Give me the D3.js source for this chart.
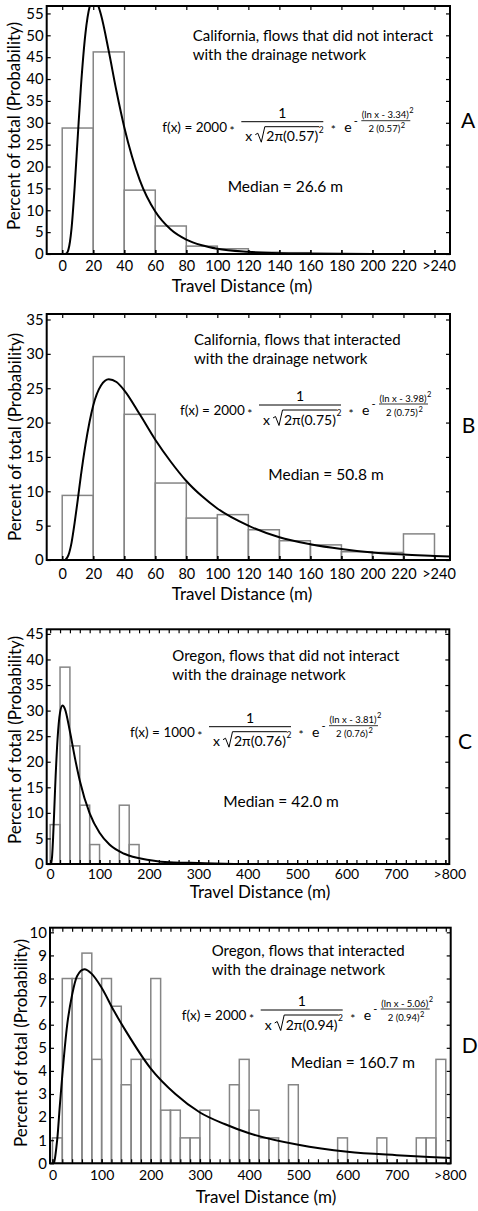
<!DOCTYPE html>
<html>
<head>
<meta charset="utf-8">
<script src="https://cdn.jsdelivr.net/npm/d3@7"></script>
<style>
  body { margin: 0; background: #fff; }
</style>
</head>
<body>
<div id="chart"></div>
<script>
// ---- data ----
// 20 m bins, start of each bin
const binsAB = [0, 20, 40, 60, 80, 100, 120, 140, 160, 180, 200, 220]
const binsCD = [0, 20, 40, 60, 80, 100, 120, 140, 160, 180, 200, 220, 240, 260, 280, 300, 320, 340, 360, 380,
  400, 420, 440, 460, 480, 500, 520, 540, 560, 580, 600, 620, 640, 660, 680, 700, 720, 740, 760, 780]

// percent of total in each bin
const pctA = [28.8, 46.2, 14.6, 6.4, 1.8, 1.2, 0.4, 0.3, 0, 0, 0, 0]
const pctB = [9.4, 29.6, 21.2, 11.2, 6.1, 6.6, 4.4, 2.8, 2.2, 1.2, 1.1, 3.8]
const pctC = [7.7, 38.5, 23.1, 11.5, 3.8, 0, 0, 11.5, 3.8, 0, 0, 0, 0, 0, 0, 0, 0, 0, 0, 0,
  0, 0, 0, 0, 0, 0, 0, 0, 0, 0, 0, 0, 0, 0, 0, 0, 0, 0, 0, 0]
const pctD = [1.1, 8.0, 8.0, 9.1, 4.5, 8.0, 6.8, 3.4, 4.5, 4.5, 8.0, 2.3, 2.3, 1.1, 1.1, 2.3, 0, 0, 3.4, 4.5,
  2.3, 1.1, 1.1, 0, 3.4, 0, 0, 0, 0, 1.1, 0, 0, 0, 1.1, 0, 0, 0, 1.1, 1.1, 4.5]

// fitted lognormal curves
const curveAx = [2, 3, 4, 5, 6, 8, 10, 12, 15, 18, 20, 22, 25, 30, 35, 40, 45, 50, 60, 70, 80, 90, 100, 120, 140, 160, 200, 240]
const curveAy = [0.0, 0.2, 1.0, 2.8, 5.8, 15.2, 26.7, 37.9, 50.5, 57.0, 58.3, 57.8, 54.7, 46.4, 37.2, 29.0, 22.3, 16.9, 9.7, 5.6, 3.3, 2.0, 1.2, 0.5, 0.2, 0.1, 0.0, 0.0]
const curveBx = [2, 4, 6, 8, 10, 12, 15, 20, 25, 30, 35, 40, 50, 60, 70, 80, 90, 100, 120, 140, 160, 180, 200, 220, 240, 250]
const curveBy = [0.0, 0.7, 2.5, 5.4, 8.7, 12.2, 16.8, 22.5, 25.4, 26.3, 25.9, 24.7, 21.2, 17.5, 14.3, 11.5, 9.3, 7.5, 5.0, 3.3, 2.3, 1.6, 1.1, 0.8, 0.6, 0.5]
const curveCx = [2, 4, 6, 8, 10, 15, 20, 25, 30, 40, 50, 60, 80, 100, 120, 150, 200, 250, 300, 400, 500, 600, 808]
const curveCy = [0.1, 1.6, 5.2, 9.8, 14.7, 24.5, 29.6, 31.0, 30.3, 25.9, 20.8, 16.3, 9.9, 6.1, 3.8, 2.0, 0.8, 0.3, 0.2, 0.0, 0.0, 0.0, 0.0]
const curveDx = [3, 5, 8, 10, 15, 20, 30, 40, 50, 65, 80, 100, 125, 150, 200, 250, 300, 350, 400, 500, 600, 700, 800, 809]
const curveDy = [0.0, 0.2, 0.7, 1.1, 2.5, 3.8, 6.0, 7.3, 8.1, 8.4, 8.2, 7.6, 6.6, 5.7, 4.1, 3.0, 2.2, 1.7, 1.3, 0.8, 0.5, 0.35, 0.24, 0.23]

// ticks
const xTicksAB = [0, 20, 40, 60, 80, 100, 120, 140, 160, 180, 200, 220, 240]
const xLabelsAB = ['0', '20', '40', '60', '80', '100', '120', '140', '160', '180', '200', '220', '>240']
const xTicksCD = [0, 100, 200, 300, 400, 500, 600, 700, 800]
const xLabelsCD = ['0', '100', '200', '300', '400', '500', '600', '700', '>800']
const yTicksA = [0, 5, 10, 15, 20, 25, 30, 35, 40, 45, 50, 55]
const yTicksB = [0, 5, 10, 15, 20, 25, 30, 35]
const yTicksC = [0, 5, 10, 15, 20, 25, 30, 35, 40, 45]
const yTicksD = [0, 1, 2, 3, 4, 5, 6, 7, 8, 9, 10]

// text
const titleA = ['California, flows that did not interact', 'with the drainage network']
const titleB = ['California, flows that interacted', 'with the drainage network']
const titleC = ['Oregon, flows that did not interact', 'with the drainage network']
const titleD = ['Oregon, flows that interacted', 'with the drainage network']
const fitCoef = ['2000', '2000', '1000', '2000']
const fitMu = ['3.34', '3.98', '3.81', '5.06']
const fitSigma = ['0.57', '0.75', '0.76', '0.94']
const medians = ['Median = 26.6 m', 'Median = 50.8 m', 'Median = 42.0 m', 'Median = 160.7 m']
const letters = ['A', 'B', 'C', 'D']

// ---- layout ----
const width = 478
const height = 1211
const panels = [
  {bins: binsAB, pct: pctA, cx: curveAx, cy: curveAy, title: titleA, xTicks: xTicksAB, xLabels: xLabelsAB, yTicks: yTicksA,
    xDom: [-10, 250], yDom: [0, 56.7], left: 46.7, right: 450, top: 6, bottom: 254, tickFont: 14.5, tickPad: 7,
    titlePos: [192.7, 40.7], fx: [162.3, 131.7], medPos: [227.7, 191.7], letterPos: [461, 128.3], xLab: [242, 292], yLab: [20, 126]},
  {bins: binsAB, pct: pctB, cx: curveBx, cy: curveBy, title: titleB, xTicks: xTicksAB, xLabels: xLabelsAB, yTicks: yTicksB,
    xDom: [-10, 250], yDom: [0, 35.8], left: 46.7, right: 450, top: 314, bottom: 560, tickFont: 14.5, tickPad: 9,
    titlePos: [194, 345], fx: [180, 415], medPos: [268.3, 480], letterPos: [461.7, 433.3], xLab: [242, 600], yLab: [21, 437]},
  {bins: binsCD, pct: pctC, cx: curveCx, cy: curveCy, title: titleC, xTicks: xTicksCD, xLabels: xLabelsCD, yTicks: yTicksC,
    xDom: [-7, 808], yDom: [0, 45.9], left: 46.7, right: 449.3, top: 629.3, bottom: 864, tickFont: 14, tickPad: 5,
    titlePos: [172.3, 660.7], fx: [130, 736.7], medPos: [223.3, 806.7], letterPos: [458, 749.3], xLab: [260, 898], yLab: [21, 740]},
  {bins: binsCD, pct: pctD, cx: curveDx, cy: curveDy, title: titleD, xTicks: xTicksCD, xLabels: xLabelsCD, yTicks: yTicksD,
    xDom: [-5, 810], yDom: [0, 10.2], left: 50, right: 450.7, top: 927.7, bottom: 1163.3, tickFont: 14, tickPad: 7,
    titlePos: [211.7, 956], fx: [181.7, 1020], medPos: [290.7, 1068.3], letterPos: [461.7, 1053.3], xLab: [266, 1203], yLab: [27, 1043]},
]

const svg = d3.select('#chart').append('svg')
  .attr('width', width)
  .attr('height', height)
  .style('font-family', 'Lato, "Open Sans", sans-serif')

// the fit formula, laid out relative to the start of "f(x)"
function drawFormula(g, x0, b, coef, mu, sig) {
  const t = (x, y, s, size, anchor) => g.append('text')
    .attr('x', x).attr('y', y).attr('font-size', size)
    .attr('text-anchor', anchor || 'start').text(s)
  const lead = t(x0, b, `f(x) = ${coef}`, 13.5)
  const lw = lead.node().getComputedTextLength()
  t(x0 + Math.min(lw + 5, 71), b + 3, '*', 12, 'middle')
  g.append('line').attr('x1', x0 + 79).attr('x2', x0 + 161).attr('y1', b - 10).attr('y2', b - 10)
    .attr('stroke', '#000').attr('stroke-width', 1)
  t(x0 + 120, b - 14, '1', 14, 'middle')
  t(x0 + 83, b + 9.5, 'x', 14)
  const rad = t(x0 + 104, b + 9.5, `2π(${sig})`, 14)
  const rw = rad.node().getComputedTextLength()
  t(x0 + 104 + rw + 0.5, b + 1, '2', 8.5)
  g.append('path')
    .attr('d', `M${x0 + 93},${b + 3} L${x0 + 95.5},${b + 1.5} L${x0 + 99},${b + 10.5} L${x0 + 102.5},${b - 5} L${x0 + 104 + rw + 1},${b - 5}`)
    .attr('fill', 'none').attr('stroke', '#000').attr('stroke-width', 1)
  t(x0 + 171, b + 2.5, '*', 12, 'middle')
  t(x0 + 182, b, 'e', 14)
  t(x0 + 191.5, b - 7, '-', 11)
  g.append('line').attr('x1', x0 + 199).attr('x2', x0 + 248).attr('y1', b - 11).attr('y2', b - 11)
    .attr('stroke', '#000').attr('stroke-width', 0.8)
  const num = t(x0 + 223, b - 13.5, `(ln x - ${mu})`, 9.5, 'middle')
  const nw = num.node().getComputedTextLength()
  t(x0 + 223 + nw / 2 + 0.5, b - 18.5, '2', 7.5)
  const den = t(x0 + 222, b + 0.5, `2 (${sig})`, 9.5, 'middle')
  const dw = den.node().getComputedTextLength()
  t(x0 + 222 + dw / 2 + 0.5, b - 3.5, '2', 7.5)
}

panels.forEach((p, k) => {
  const x = d3.scaleLinear().domain(p.xDom).range([p.left, p.right])
  const y = d3.scaleLinear().domain(p.yDom).range([p.bottom, p.top])
  const binW = p.bins[1] - p.bins[0]
  const g = svg.append('g')

  const clipId = 'clip-' + k
  g.append('clipPath').attr('id', clipId)
    .append('rect')
    .attr('x', p.left).attr('y', p.top)
    .attr('width', p.right - p.left).attr('height', p.bottom - p.top)

  // histogram bars, outline only
  const bars = p.pct.map((v, i) => ({x0: p.bins[i], x1: p.bins[i] + binW, v}))
    .filter(d => d.v > 0)
  g.append('g')
    .selectAll('rect')
    .data(bars)
    .join('rect')
    .attr('x', d => x(d.x0))
    .attr('y', d => y(d.v))
    .attr('width', d => x(d.x1) - x(d.x0))
    .attr('height', d => y(0) - y(d.v))
    .attr('fill', 'none')
    .attr('stroke', '#858585')
    .attr('stroke-width', 1.5)

  // fitted curve
  const line = d3.line()
    .x(d => x(d[0]))
    .y(d => y(d[1]))
    .curve(d3.curveMonotoneX)
  g.append('path')
    .datum(d3.zip(p.cx, p.cy))
    .attr('clip-path', `url(#${clipId})`)
    .attr('d', line)
    .attr('fill', 'none')
    .attr('stroke', '#000')
    .attr('stroke-width', 2)

  // axes: ticks point inward on all four sides
  const minor = p.xTicks === xTicksCD ? d3.range(0, 801, 20) : p.xTicks
  const clean = a => a.call(a => a.select('.domain').remove())
    .attr('font-size', null).attr('font-family', null)

  g.append('g')
    .attr('transform', `translate(0,${p.bottom})`)
    .call(d3.axisBottom(x).tickValues(minor).tickFormat('').tickSizeInner(-4).tickSizeOuter(0))
    .call(clean)
  g.append('g')
    .attr('transform', `translate(0,${p.bottom})`)
    .call(d3.axisBottom(x).tickValues(p.xTicks).tickFormat((d, i) => p.xLabels[i])
      .tickSizeInner(-4).tickSizeOuter(0).tickPadding(p.tickPad))
    .call(clean)
    .call(a => a.selectAll('text').attr('font-size', p.tickFont).attr('fill', '#000')
      .attr('dx', (d, i) => i === p.xTicks.length - 1 ? 4 : 0))
  g.append('g')
    .attr('transform', `translate(0,${p.top})`)
    .call(d3.axisTop(x).tickValues(minor).tickFormat('').tickSizeInner(-4).tickSizeOuter(0))
    .call(clean)
  g.append('g')
    .attr('transform', `translate(${p.left},0)`)
    .call(d3.axisLeft(y).tickValues(p.yTicks).tickSizeInner(-4).tickSizeOuter(0).tickPadding(3))
    .call(clean)
    .call(a => a.selectAll('text').attr('font-size', 15).attr('fill', '#000'))
  g.append('g')
    .attr('transform', `translate(${p.right},0)`)
    .call(d3.axisRight(y).tickValues(p.yTicks).tickFormat('').tickSizeInner(-4).tickSizeOuter(0))
    .call(clean)
  g.selectAll('.tick line').attr('stroke', '#000').attr('stroke-width', 1.2)

  // frame
  g.append('rect')
    .attr('x', p.left).attr('y', p.top)
    .attr('width', p.right - p.left).attr('height', p.bottom - p.top)
    .attr('fill', 'none')
    .attr('stroke', '#000')
    .attr('stroke-width', 2)

  // axis titles
  g.append('text')
    .attr('x', p.xLab[0]).attr('y', p.xLab[1])
    .attr('text-anchor', 'middle')
    .attr('font-size', 17)
    .text('Travel Distance (m)')
  g.append('text')
    .attr('transform', `translate(${p.yLab[0]},${p.yLab[1]}) rotate(-90)`)
    .attr('text-anchor', 'middle')
    .attr('font-size', 17)
    .text('Percent of total (Probability)')

  // annotations
  p.title.forEach((s, i) => {
    g.append('text')
      .attr('x', p.titlePos[0]).attr('y', p.titlePos[1] + i * 18.8)
      .attr('font-size', 15)
      .text(s)
  })
  drawFormula(g, p.fx[0], p.fx[1], fitCoef[k], fitMu[k], fitSigma[k])
  g.append('text')
    .attr('x', p.medPos[0]).attr('y', p.medPos[1])
    .attr('font-size', 15.5)
    .text(medians[k])
  g.append('text')
    .attr('x', p.letterPos[0]).attr('y', p.letterPos[1])
    .attr('font-size', 21)
    .text(letters[k])
})
</script>
</body>
</html>
